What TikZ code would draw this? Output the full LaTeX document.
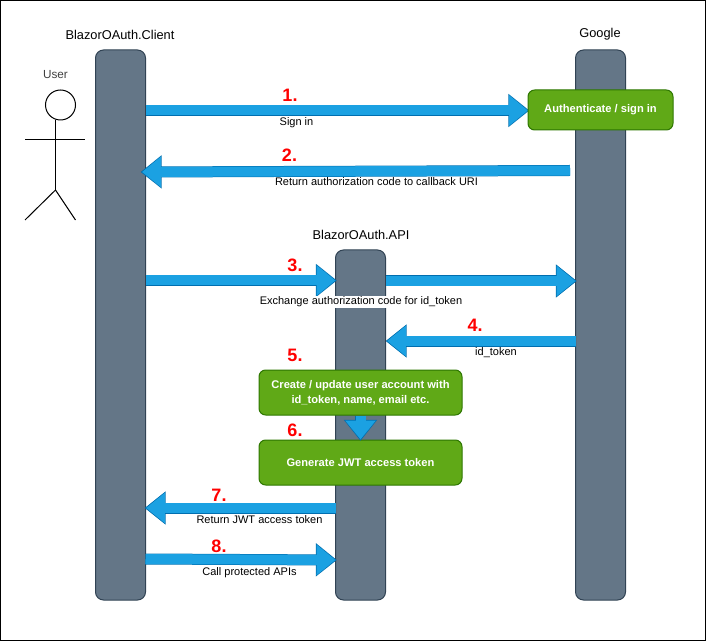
\documentclass[tikz,border=0pt]{standalone}
\usepackage{fontspec}
\setmainfont{Liberation Sans}
\usetikzlibrary{arrows.meta}
\definecolor{barfill}{HTML}{647687}
\definecolor{baredge}{HTML}{314354}
\definecolor{boxfill}{HTML}{60A917}
\definecolor{boxedge}{HTML}{2D7600}
\definecolor{flowfill}{HTML}{1BA1E2}
\definecolor{flowedge}{HTML}{006EAF}
\tikzset{
  lifeline/.style={draw=baredge,fill=barfill,line width=.75pt,rounded corners=6pt,minimum width=37.5pt,inner sep=0pt},
  taskbox/.style={draw=boxedge,fill=boxfill,line width=.75pt,rounded corners=5pt,inner sep=0pt,align=center,
    text=white,font=\fontsize{8.35}{11.25}\selectfont\bfseries},
  flow/.style={
    preaction={draw=flowedge,line width=8.25pt,shorten >=-1pt,-{Triangle[length=15.75pt,width=24pt]}},
    draw=flowfill,line width=7.5pt,-{Triangle[length=14.2pt,width=22pt]}},
  title/.style={font=\fontsize{9.6}{12}\selectfont},
  steplabel/.style={fill=white,inner sep=.75pt,font=\fontsize{8.25}{10}\selectfont},
  stepnum/.style={text=red,font=\fontsize{13.5}{15}\selectfont\bfseries}
}
\begin{document}
\begin{tikzpicture}[x=.75pt,y=-.75pt]
\useasboundingbox (0,0) rectangle (706,641);
\draw [line width=1.1pt] (.5,.5) rectangle (705.5,640.5);
% lifelines
\node [lifeline,minimum height=412.5pt] (client) at (120.5,325) {};
\node [lifeline,minimum height=412.5pt] (google) at (600.5,325) {};
\node [lifeline,minimum height=262.5pt] (api) at (360.5,425) {};
\node [title] (clientname) at (120,35) {BlazorOAuth.Client};
\node [title] (googlename) at (600,34) {Google};
\node [title] (apiname) at (361,235) {BlazorOAuth.API};
% user
\node [text=black!75,font=\fontsize{8.8}{11}\selectfont] (username) at (55.5,75) {User};
\node [draw,circle,minimum size=22.5pt,inner sep=0pt,line width=.75pt] (head) at (60.5,105) {};
\coordinate (neck) at (55.5,120);
\coordinate (hip) at (55.5,190);
\coordinate (armleft) at (25,140);
\coordinate (armright) at (85,140);
\coordinate (footleft) at (25,220);
\coordinate (footright) at (75.5,220);
\draw [line width=.75pt] (neck) -- (hip);
\draw [line width=.75pt] (armleft) -- (armright);
\draw [line width=.75pt] (footleft) -- (hip) -- (footright);
% end points
\coordinate (a1) at (145.5,110.5);
\coordinate (b1) at (528,110.5);
\coordinate (a2) at (570,170.5);
\coordinate (b2) at (142,172);
\coordinate (a3) at (145.5,280.5);
\coordinate (b3) at (335.5,280.5);
\coordinate (c3) at (385.5,281);
\coordinate (d3) at (575.5,281);
\coordinate (a4) at (575.5,341);
\coordinate (b4) at (387,341);
\coordinate (a7) at (335.5,508);
\coordinate (b7) at (146,508);
\coordinate (a8) at (145.5,559);
\coordinate (b8) at (335.5,560);
% arrows
\draw [flow] (a1) -- (b1);
\draw [flow] (a2) -- (b2);
\draw [flow] (a3) -- (b3);
\draw [flow] (c3) -- (d3);
\draw [flow] (a4) -- (b4);
\draw [flow] (a7) -- (b7);
\draw [flow] (a8) -- (b8);
% boxes
\node [taskbox,minimum width=108.75pt,minimum height=30pt] (auth) at (600.5,110) {Authenticate / sign in};
\node [taskbox,minimum width=152.25pt,minimum height=33.75pt] (account) at (360.5,392.5) {Create / update user account with\\id\_token, name, email etc.};
\node [taskbox,minimum width=152.25pt,minimum height=33.75pt] (jwt) at (360.5,462.5) {Generate JWT access token};
\draw [flow] (account) -- (jwt);
% labels
\node [steplabel] (l1) at (296.5,122.5) {Sign in};
\node [steplabel] (l2) at (376.5,182) {Return authorization code to callback URI};
\node [steplabel] (l3) at (361,302) {Exchange authorization code for id\_token};
\node [steplabel] (l4) at (496,353) {id\_token};
\node [steplabel] (l7) at (259.5,520) {Return JWT access token};
\node [steplabel] (l8) at (249.5,572.5) {Call protected APIs};
% numbers
\node [stepnum] (n1) at (290,95) {1.};
\node [stepnum] (n2) at (289.5,155) {2.};
\node [stepnum] (n3) at (295,265) {3.};
\node [stepnum] (n4) at (475,325) {4.};
\node [stepnum] (n5) at (295,355) {5.};
\node [stepnum] (n6) at (295,430) {6.};
\node [stepnum] (n7) at (219,495) {7.};
\node [stepnum] (n8) at (219,546) {8.};
\end{tikzpicture}
\end{document}
